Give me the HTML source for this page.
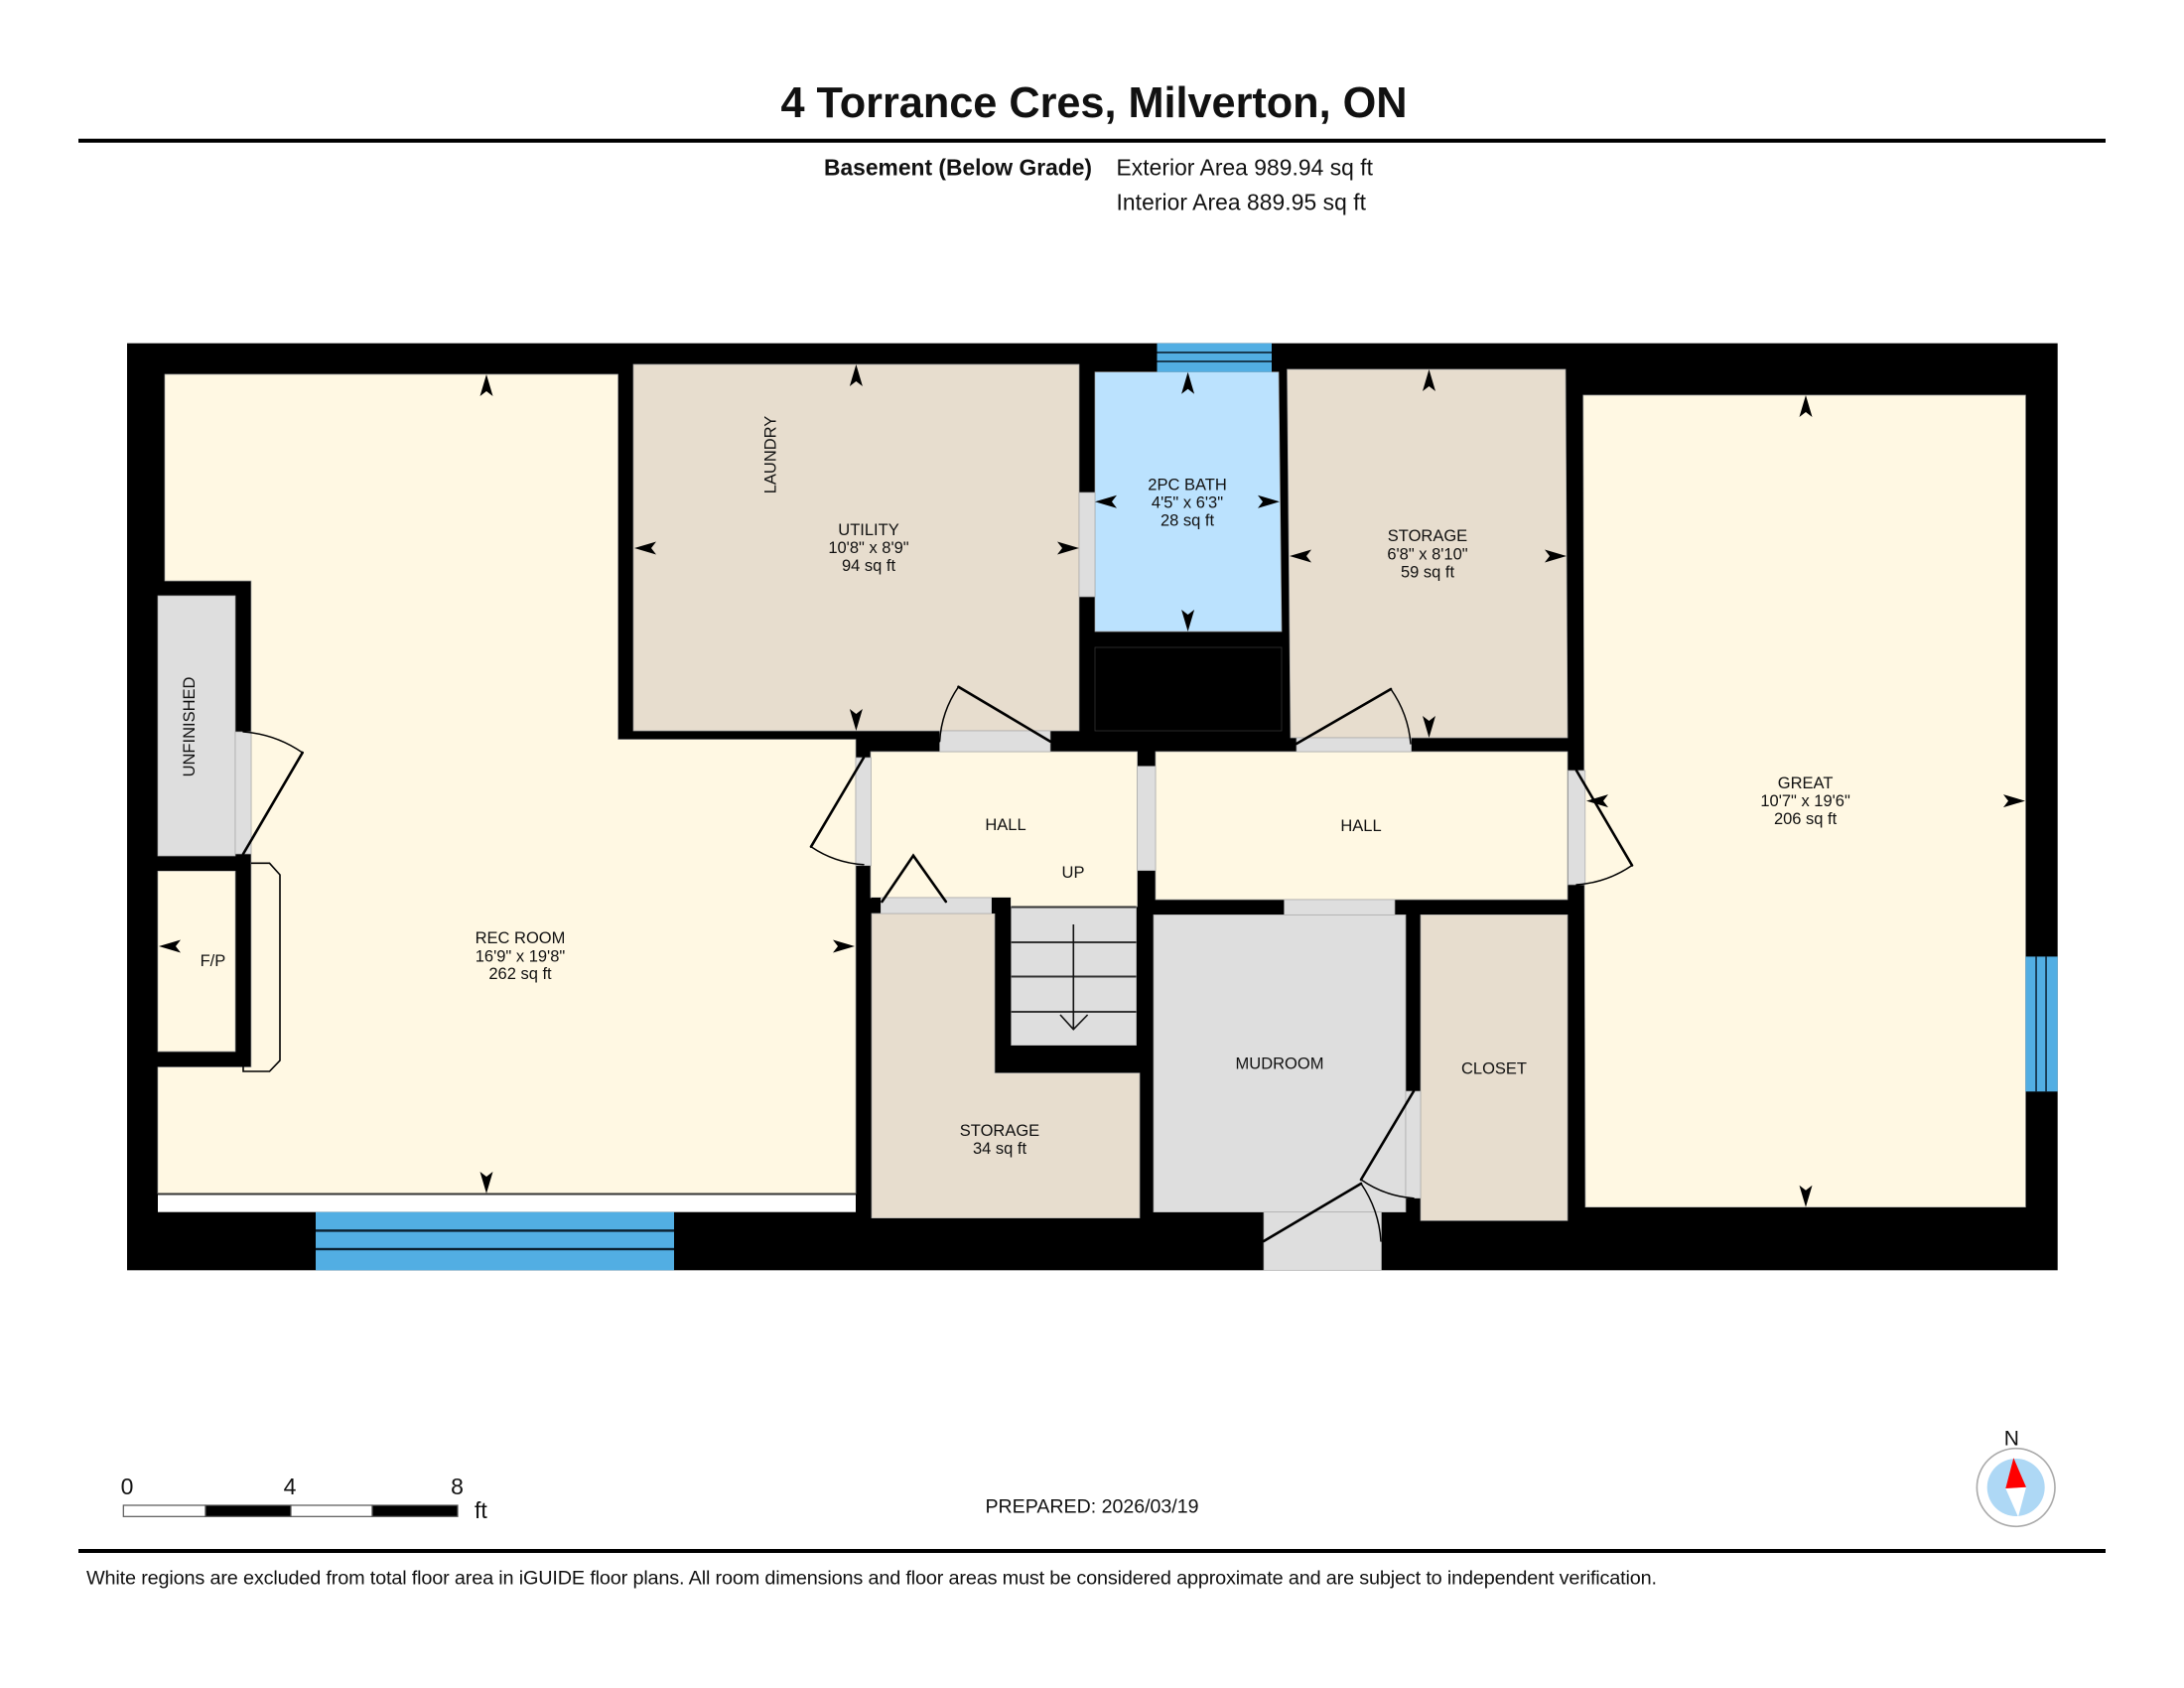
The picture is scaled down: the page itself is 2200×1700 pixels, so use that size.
<!DOCTYPE html>
<html><head><meta charset="utf-8"><title>4 Torrance Cres, Milverton, ON</title>
<style>html,body{margin:0;padding:0;background:#fff}svg{display:block}text{font-family:"Liberation Sans",sans-serif;fill:#111}</style></head>
<body>
<svg xmlns="http://www.w3.org/2000/svg" width="2200" height="1700" viewBox="0 0 2200 1700">
<defs><polygon id="a" points="0,0 6.5,22 0,17 -6.5,22" fill="#000"/></defs>
<rect width="2200" height="1700" fill="#fff"/>

<!-- Header -->
<text x="786.5" y="118" font-size="43.3" font-weight="700" textLength="631" fill="#000">4 Torrance Cres, Milverton, ON</text>
<rect x="79" y="139.7" width="2042" height="4" fill="#000"/>
<text x="830" y="176.7" font-size="22.8" font-weight="700" textLength="270">Basement (Below Grade)</text>
<text x="1124.5" y="176.7" font-size="22.8" textLength="258.5">Exterior Area 989.94 sq ft</text>
<text x="1124.5" y="211.7" font-size="22.8" textLength="251.5">Interior Area 889.95 sq ft</text>

<!-- Building -->
<rect x="128" y="345.7" width="1944.7" height="933.6" fill="#000"/>

<g stroke="#a8a8a8" stroke-width="0.7">
<!-- Cream rooms -->
<polygon fill="#FFF8E3" points="166,377 622.5,377 622.5,744.7 862,744.7 862,1202 159,1202 159,1074.7 253,1074.7 253,585 166,585"/>
<polygon fill="#FFF8E3" points="159,877.3 237,877.3 237,1059 159,1059"/>
<polygon fill="#FFF8E3" points="877,757 1145.6,757 1145.6,913 1018,913 1018,904 877,904"/>
<polygon fill="#FFF8E3" points="1164,757 1579,757 1579,906 1164,906"/>
<polygon fill="#FFF8E3" points="1594.8,398 2040.4,398 2040.4,1215.7 1597,1215.7"/>
<!-- Beige rooms -->
<polygon fill="#E7DDCE" points="638,367 1087,367 1087,736 638,736"/>
<polygon fill="#E7DDCE" points="1296.6,372 1577,372 1579,743 1300,743"/>
<polygon fill="#E7DDCE" points="878,920 1002,920 1002,1080.7 1148,1080.7 1148,1226.7 878,1226.7"/>
<polygon fill="#E7DDCE" points="1431,921.3 1579,921.3 1579,1229.3 1431,1229.3"/>
<!-- Gray rooms -->
<polygon fill="#DEDEDE" points="159,600 237,600 237,862 159,862"/>
<polygon fill="#DEDEDE" points="1162,921.3 1416,921.3 1416,1220.7 1162,1220.7"/>
<polygon fill="#DEDEDE" points="1018.6,913 1144.6,913 1144.6,1052.7 1018.6,1052.7"/>
<!-- Bath -->
<polygon fill="#BBE2FE" points="1103,374.7 1288,374.7 1291,636 1103,636"/>
<!-- Door openings -->
<rect fill="#DEDEDE" x="237" y="737" width="16" height="123"/>
<rect fill="#DEDEDE" x="862" y="763" width="15.5" height="108.7"/>
<rect fill="#DEDEDE" x="1087" y="496" width="16" height="105"/>
<rect fill="#DEDEDE" x="946.6" y="736" width="111.4" height="21"/>
<rect fill="#DEDEDE" x="1306" y="743" width="115.6" height="14"/>
<rect fill="#DEDEDE" x="1145.6" y="771.7" width="18.4" height="105"/>
<rect fill="#DEDEDE" x="1579.6" y="776" width="17.2" height="115"/>
<rect fill="#DEDEDE" x="887" y="904" width="112" height="16"/>
<rect fill="#DEDEDE" x="1293.6" y="906" width="111.4" height="15.3"/>
<rect fill="#DEDEDE" x="1416" y="1099" width="15" height="107.7"/>
<rect fill="#DEDEDE" x="1273" y="1220.7" width="118.5" height="58.6"/>
</g>

<!-- Black service box outline -->
<rect x="1103" y="652" width="188" height="84" fill="#000" stroke="#333" stroke-width="0.8"/>

<!-- White band + line in rec room -->
<rect x="159" y="1203.5" width="703" height="17.2" fill="#fff"/>
<rect x="159" y="1201.5" width="703" height="2" fill="#333"/>

<!-- Windows -->
<rect x="318" y="1220.7" width="361" height="58.6" fill="#52AEE3"/>
<rect x="318" y="1238.2" width="361" height="2.4" fill="#0b2030"/>
<rect x="318" y="1256.8" width="361" height="2.4" fill="#0b2030"/>
<rect x="1165.5" y="345.7" width="115.5" height="29" fill="#52AEE3"/>
<rect x="1165.5" y="354.2" width="115.5" height="1.6" fill="#0b2030"/>
<rect x="1165.5" y="363.2" width="115.5" height="1.6" fill="#0b2030"/>
<rect x="2040.4" y="963.4" width="32.3" height="135.9" fill="#52AEE3"/>
<rect x="2050.3" y="963.4" width="1.5" height="135.9" fill="#0b2030"/>
<rect x="2060.3" y="963.4" width="1.5" height="135.9" fill="#0b2030"/>

<!-- Stairs -->
<g fill="#333">
<rect x="1018.6" y="912.5" width="126" height="2"/>
<rect x="1018.6" y="948" width="126" height="2"/>
<rect x="1018.6" y="982.5" width="126" height="2"/>
<rect x="1018.6" y="1018" width="126" height="2"/>
</g>
<path d="M1081.3 931V1036.7M1068 1022L1081.3 1036.7L1095.6 1022" fill="none" stroke="#111" stroke-width="1.6"/>

<!-- Fireplace hearth -->
<path d="M253 869.3H271.5L282 881V1068L271.5 1079H245V1074" fill="none" stroke="#000" stroke-width="1.6"/>

<!-- Pillars -->
<rect x="878" y="904" width="9" height="15.5" fill="#000"/>
<rect x="999" y="904" width="19" height="16" fill="#000"/>

<!-- Doors -->
<g fill="none" stroke="#000" stroke-linecap="round">
<g stroke-width="2.6">
<path d="M245 860L304.7 758"/>
<path d="M870 763L817 852.7"/>
<path d="M1058 746.7L965.5 691.7"/>
<path d="M1306 749L1401 694"/>
<path d="M1588 776L1644 871.5"/>
<path d="M1424 1099L1371 1188"/>
<path d="M1273 1250L1371 1192"/>
<path d="M888.5 908L920 861.7L952.8 908"/>
</g>
<g stroke-width="1.5">
<path d="M304.7 758A120 120 0 0 0 245 737"/>
<path d="M817 852.7A105 105 0 0 0 870 870.7"/>
<path d="M965.5 691.7A108 108 0 0 0 946.6 746.7"/>
<path d="M1401 694A112 112 0 0 1 1421 749"/>
<path d="M1644 871.5A112 112 0 0 1 1588 891"/>
<path d="M1371 1188A105 105 0 0 0 1424 1206.7"/>
<path d="M1371 1192A115 115 0 0 1 1391 1250"/>
</g>
</g>

<!-- Arrowheads -->
<use href="#a" transform="translate(490,377)"/>
<use href="#a" transform="translate(490,1202) rotate(180)"/>
<use href="#a" transform="translate(160,953) rotate(-90)"/>
<use href="#a" transform="translate(861,953) rotate(90)"/>
<use href="#a" transform="translate(862.4,367)"/>
<use href="#a" transform="translate(862.4,736) rotate(180)"/>
<use href="#a" transform="translate(639,552) rotate(-90)"/>
<use href="#a" transform="translate(1087,552) rotate(90)"/>
<use href="#a" transform="translate(1196.6,374.7)"/>
<use href="#a" transform="translate(1196.6,636) rotate(180)"/>
<use href="#a" transform="translate(1103,505.3) rotate(-90)"/>
<use href="#a" transform="translate(1289,505.3) rotate(90)"/>
<use href="#a" transform="translate(1439.5,372)"/>
<use href="#a" transform="translate(1439.5,743) rotate(180)"/>
<use href="#a" transform="translate(1299,560) rotate(-90)"/>
<use href="#a" transform="translate(1578,560) rotate(90)"/>
<use href="#a" transform="translate(1819,398)"/>
<use href="#a" transform="translate(1819,1215.7) rotate(180)"/>
<use href="#a" transform="translate(1598,806.6) rotate(-90)"/>
<use href="#a" transform="translate(2040,806.6) rotate(90)"/>

<!-- Room labels -->
<g font-size="16.5" text-anchor="middle">
<text x="524" y="950">REC ROOM</text><text x="524" y="968.5">16'9" x 19'8"</text><text x="524" y="986">262 sq ft</text>
<text x="214.4" y="973">F/P</text>
<text x="875" y="539">UTILITY</text><text x="875" y="557">10'8" x 8'9"</text><text x="875" y="575">94 sq ft</text>
<text x="1196" y="493.3">2PC BATH</text><text x="1196" y="511.5">4'5" x 6'3"</text><text x="1196" y="529.5">28 sq ft</text>
<text x="1438" y="545">STORAGE</text><text x="1438" y="563.5">6'8" x 8'10"</text><text x="1438" y="581.5">59 sq ft</text>
<text x="1818.6" y="794">GREAT</text><text x="1818.6" y="812">10'7" x 19'6"</text><text x="1818.6" y="830">206 sq ft</text>
<text x="1007" y="1144">STORAGE</text><text x="1007" y="1162">34 sq ft</text>
<text x="1013" y="836">HALL</text>
<text x="1371" y="837">HALL</text>
<text x="1081" y="884">UP</text>
<text x="1289" y="1076.7">MUDROOM</text>
<text x="1505" y="1081.3">CLOSET</text>
<text transform="translate(781.5,458) rotate(-90)">LAUNDRY</text>
<text transform="translate(196,732) rotate(-90)">UNFINISHED</text>
</g>

<!-- Scale bar -->
<g stroke="#555" stroke-width="1.2">
<rect x="124.3" y="1516" width="82.7" height="11.3" fill="#fff"/>
<rect x="207" y="1516" width="86" height="11.3" fill="#000"/>
<rect x="293" y="1516" width="82" height="11.3" fill="#fff"/>
<rect x="375" y="1516" width="86" height="11.3" fill="#000"/>
</g>
<g font-size="23">
<text x="128" y="1505" text-anchor="middle">0</text>
<text x="292" y="1505" text-anchor="middle">4</text>
<text x="460.5" y="1505" text-anchor="middle">8</text>
<text x="478" y="1529">ft</text>
</g>

<text x="992.5" y="1523.5" font-size="19.6" textLength="215">PREPARED: 2026/03/19</text>

<!-- Compass -->
<text x="2026.3" y="1455.7" text-anchor="middle" font-size="21">N</text>
<circle cx="2030.7" cy="1498" r="39.3" fill="#fff" stroke="#aaa" stroke-width="1.6"/>
<circle cx="2030.7" cy="1498" r="29" fill="#AED8F5"/>
<polygon points="2020.3,1499 2041,1497.7 2033,1527.7" fill="#fff"/>
<polygon points="2028.3,1468.3 2020.3,1499 2041,1497.7" fill="#f00"/>

<!-- Footer -->
<rect x="79" y="1560" width="2042" height="4" fill="#000"/>
<text x="87" y="1595.7" font-size="19.85" textLength="1582">White regions are excluded from total floor area in iGUIDE floor plans. All room dimensions and floor areas must be considered approximate and are subject to independent verification.</text>
</svg>
</body></html>
